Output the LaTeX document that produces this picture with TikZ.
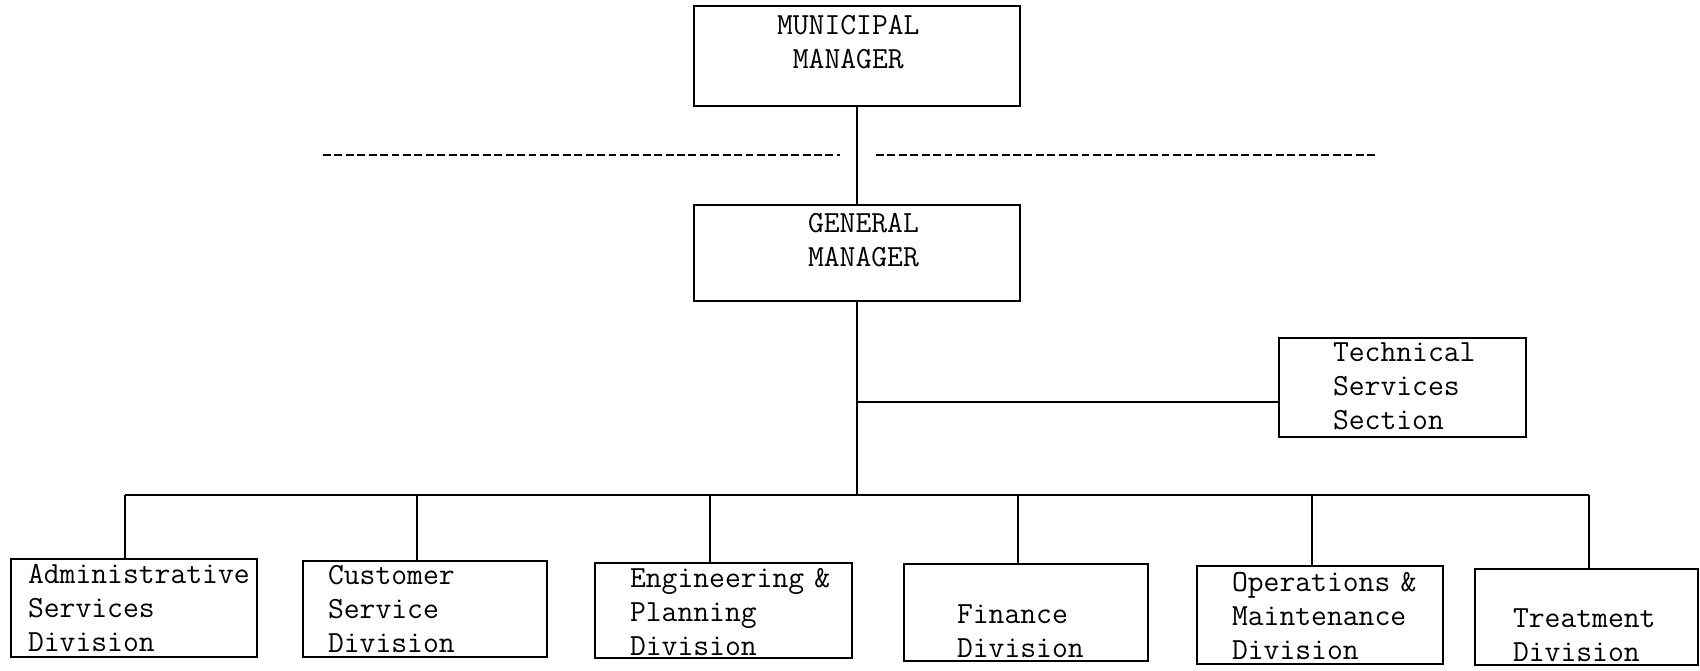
\documentclass[tikz,border=0pt]{standalone}
\usepackage{tikz}

\tikzset{
  unit/.style={draw, line width=1.1pt, align=left, inner ysep=0pt,
    font=\fontsize{17.5}{19.35}\selectfont\ttfamily,
    execute at begin node=\strut, text height=0.48cm},
  link/.style={line width=1.1pt},
  sep/.style={line width=0.9pt, dash pattern=on 4.5pt off 2pt}
}

\begin{document}
\begin{tikzpicture}[x=0.02cm, y=-0.02cm]
  \useasboundingbox (0,0) rectangle (1700,670);

  \node[unit, text width=3.2cm, inner xsep=1.66cm, text height=0.56cm, text depth=1.44cm] (mm) at (857,56) {MUNICIPAL\\\phantom{M}MANAGER};
  \node[unit, text width=1.96cm, inner xsep=2.28cm, text height=0.54cm, text depth=1.38cm] (gm) at (857,253) {GENERAL\\MANAGER};

  \draw[sep] (323,155) -- (840,155);     %
  \draw[sep] (876,155) -- (1377,155);    %

  \node[unit, text width=2.78cm, inner xsep=1.08cm, text height=0.46cm, text depth=1.52cm] (tech) at (1402.5,387.5) {Technical\\Services\\Section};

  \node[unit, text width=4.24cm, inner xsep=0.34cm, text depth=1.48cm] (adm) at (134,608) {Administrative\\Services\\Division};
  \node[unit, text width=3.88cm, inner xsep=0.5cm, text height=0.46cm, text depth=1.46cm] (cus) at (425,609) {Customer\\Service\\Division};
  \node[unit, text width=3.74cm, inner xsep=0.7cm, text depth=1.42cm] (eng) at (723.5,610.5) {Engineering~\&\\Planning\\Division};
  \node[unit, text width=2.76cm, inner xsep=1.06cm, text height=0.5cm, text depth=1.44cm] (fin) at (1026,612.5) {\\Finance\\Division};
  \node[unit, text width=3.52cm, inner xsep=0.7cm, text height=0.5cm, text depth=1.46cm] (ops) at (1320,615) {Operations~\&\\Maintenance\\Division};
  \node[unit, text width=2.94cm, inner xsep=0.76cm, text depth=1.44cm] (trt) at (1586.5,617) {\\Treatment\\Division};

  \coordinate (tap) at (857,402);
  \coordinate (hub) at (857,495);
  \coordinate (d1) at (125,495);
  \coordinate (d2) at (417,495);
  \coordinate (d3) at (710,495);
  \coordinate (d4) at (1018,495);
  \coordinate (d5) at (1312,495);
  \coordinate (d6) at (1589,495);

  \draw[link] (mm) -- (gm);
  \draw[link] (gm) -- (hub);
  \draw[link] (tap) -- (tap -| tech.west);
  \draw[link] (d1) -- (d6);
  \foreach \d/\b in {d1/adm, d2/cus, d3/eng, d4/fin, d5/ops, d6/trt}
    \draw[link] (\d) -- (\d |- \b.north);

\end{tikzpicture}
\end{document}
